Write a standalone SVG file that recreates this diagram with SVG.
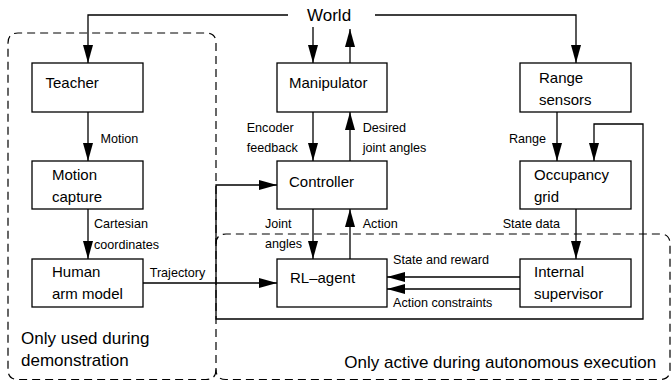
<svg xmlns="http://www.w3.org/2000/svg" width="671" height="381" viewBox="0 0 671 381">
<style>
.box{fill:#fff;stroke:#000;stroke-width:1.3}
.ln{fill:none;stroke:#000;stroke-width:1.3}
.ar{marker-end:url(#ah)}
.reg{fill:none;stroke:#000;stroke-width:1.2;stroke-dasharray:8 5}
text{font-family:"Liberation Sans",Arial,sans-serif;fill:#000}
.t{font-size:15px}
.s{font-size:12.6px}
.b{font-size:17px}
</style>
<defs>
<marker id="ah" markerUnits="userSpaceOnUse" markerWidth="18" markerHeight="10" refX="18" refY="5" orient="auto-start-reverse" viewBox="0 0 18 10">
<path d="M0,0 L18,5 L0,10 z" fill="#000"/>
</marker>
</defs>
<g id="regions">
<path class="reg" d="M216,369.5 Q216,379.5 206,379.5 H18 Q8,379.5 8,369.5 V43 Q8,33 18,33 H206 Q216,33 216,43 Z"/>
<path class="reg" d="M216,244 Q216,234 226,234 H660 Q670,234 670,244 V369.5 Q670,379.5 660,379.5 H226 Q216,379.5 216,369.5"/>
</g>
<g id="connectors">
<path class="ln ar" d="M288,15 H88 V63"/>
<path class="ln ar" d="M375,15 H576 V63"/>
<path class="ln ar" d="M313,27 V63"/>
<path class="ln ar" d="M350,63 V29"/>
<path class="ln ar" d="M88,112 V161"/>
<path class="ln ar" d="M88,209 V259"/>
<path class="ln ar" d="M143,283 H277"/>
<path class="ln ar" d="M313,112 V161"/>
<path class="ln ar" d="M350,161 V112"/>
<path class="ln ar" d="M313,209 V259"/>
<path class="ln ar" d="M350,259 V209"/>
<path class="ln ar" d="M557,112 V161"/>
<path class="ln ar" d="M576,209 V259"/>
<path class="ln ar" d="M520,277 H387"/>
<path class="ln ar" d="M520,289 H387"/>
<path class="ln ar" style="marker-start:url(#ah)" d="M277,185 H216 V319 H643 V124 H594 V161"/>
</g>
<g id="labels">
<text class="b" x="307" y="21">World</text>
<text class="s" x="100.5" y="143">Motion</text>
<text class="s" x="94" y="228">Cartesian</text>
<text class="s" x="94" y="248.5">coordinates</text>
<text class="s" x="149.7" y="277">Trajectory</text>
<text class="s" x="246.7" y="132">Encoder</text>
<text class="s" x="246.7" y="152">feedback</text>
<text class="s" x="362.7" y="132">Desired</text>
<text class="s" x="362.7" y="152">joint angles</text>
<text class="s" x="265" y="228">Joint</text>
<text class="s" x="265" y="248">angles</text>
<text class="s" x="362.7" y="228">Action</text>
<text class="s" x="509" y="143">Range</text>
<text class="s" x="502.7" y="228">State data</text>
<text class="s" x="393" y="264">State and reward</text>
<text class="s" x="393" y="307">Action constraints</text>
<text class="b" x="21" y="344">Only used during</text>
<text class="b" x="21" y="366">demonstration</text>
<text class="b" x="344.3" y="368">Only active during autonomous execution</text>
</g>
<g id="teacher"><rect class="box" x="32" y="63" width="111" height="49"/><text class="t" x="45.5" y="88">Teacher</text></g>
<g id="motion-capture"><rect class="box" x="32" y="161" width="111" height="48"/><text class="t" x="52" y="180">Motion</text><text class="t" x="52" y="202">capture</text></g>
<g id="human-arm-model"><rect class="box" x="32" y="259" width="111" height="48"/><text class="t" x="52" y="277">Human</text><text class="t" x="52" y="299">arm model</text></g>
<g id="manipulator"><rect class="box" x="277" y="63" width="110" height="49"/><text class="t" x="289" y="88">Manipulator</text></g>
<g id="controller"><rect class="box" x="277" y="161" width="110" height="48"/><text class="t" x="289" y="186.5">Controller</text></g>
<g id="rl-agent"><rect class="box" x="277" y="259" width="110" height="48"/><text class="t" x="290" y="283">RL–agent</text></g>
<g id="range-sensors"><rect class="box" x="520" y="63" width="111" height="49"/><text class="t" x="539" y="83">Range</text><text class="t" x="539" y="104.5">sensors</text></g>
<g id="occupancy-grid"><rect class="box" x="520" y="161" width="111" height="48"/><text class="t" x="534" y="180">Occupancy</text><text class="t" x="534" y="202">grid</text></g>
<g id="internal-supervisor"><rect class="box" x="520" y="259" width="111" height="48"/><text class="t" x="534" y="277">Internal</text><text class="t" x="534" y="299">supervisor</text></g>
</svg>
